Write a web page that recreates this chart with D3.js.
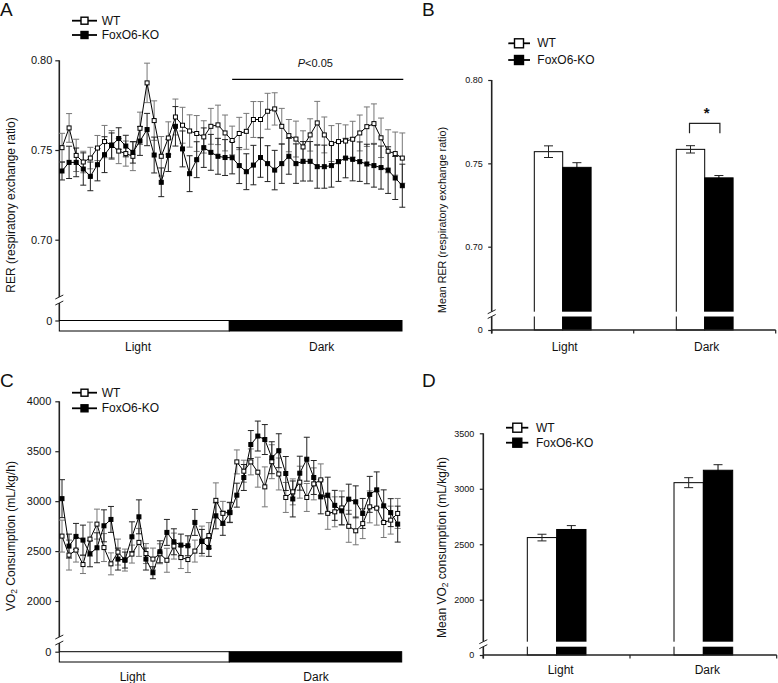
<!DOCTYPE html>
<html><head><meta charset="utf-8">
<script src="https://cdn.jsdelivr.net/npm/d3@7"></script>
<style>
body{margin:0;background:#fff}
svg{display:block}
text{font-family:"Liberation Sans",Arial,Helvetica,sans-serif;fill:#111}
</style></head>
<body><svg id="chart" width="778" height="683"></svg>
<script>
// ---------------- DATA ----------------
const timePoints = d3.range(49); // index of each measurement time point
const phases = ["Light", "Dark"];
const seriesNames = ["WT", "FoxO6-KO"];

// Panel A: RER time course
const rerWT = [0.7513,0.7623,0.7470,0.7433,0.7455,0.7511,0.7547,0.7528,0.7494,0.7480,0.7465,0.7621,0.7874,0.7664,0.7465,0.7567,0.7684,0.7638,0.7606,0.7592,0.7573,0.7632,0.7640,0.7595,0.7553,0.7592,0.7604,0.7670,0.7670,0.7716,0.7729,0.7632,0.7580,0.7561,0.7517,0.7584,0.7651,0.7584,0.7536,0.7547,0.7550,0.7560,0.7595,0.7630,0.7647,0.7568,0.7493,0.7480,0.7455];
const rerWTErr = [0.008,0.008,0.009,0.006,0.006,0.007,0.009,0.008,0.007,0.007,0.008,0.009,0.011,0.011,0.011,0.009,0.010,0.010,0.009,0.010,0.009,0.010,0.011,0.010,0.008,0.009,0.010,0.010,0.010,0.010,0.009,0.010,0.009,0.010,0.009,0.009,0.012,0.010,0.010,0.010,0.009,0.010,0.010,0.011,0.011,0.011,0.012,0.012,0.014];
const rerKO = [0.7383,0.7431,0.7431,0.7394,0.7353,0.7418,0.7474,0.7525,0.7564,0.7522,0.7487,0.7550,0.7614,0.7472,0.7320,0.7470,0.7632,0.7506,0.7368,0.7446,0.7513,0.7487,0.7465,0.7458,0.7457,0.7413,0.7379,0.7416,0.7458,0.7424,0.7388,0.7424,0.7465,0.7424,0.7437,0.7437,0.7407,0.7407,0.7413,0.7435,0.7455,0.7448,0.7435,0.7422,0.7413,0.7402,0.7388,0.7344,0.7301];
const rerKOErr = [0.005,0.009,0.008,0.009,0.008,0.009,0.010,0.007,0.006,0.006,0.006,0.008,0.009,0.010,0.008,0.009,0.011,0.010,0.010,0.010,0.011,0.010,0.010,0.010,0.009,0.010,0.010,0.011,0.011,0.010,0.011,0.011,0.010,0.011,0.011,0.011,0.012,0.012,0.012,0.011,0.011,0.012,0.011,0.011,0.012,0.012,0.013,0.012,0.012];
const rerTicks = [0.70, 0.75, 0.80];

// Panel B: mean RER
const rerMeanWT = [0.7570, 0.7584];
const rerMeanWTErr = [0.0035, 0.0022];
const rerMeanKO = [0.7476, 0.7413];
const rerMeanKOErr = [0.0028, 0.0014];

// Panel C: VO2 time course
const vo2WT = [2650,2460,2510,2365,2620,2770,2535,2372,2490,2410,2470,2587,2475,2420,2473,2408,2550,2435,2415,2500,2600,2655,3008,2878,2890,3393,3300,3393,3290,3143,3395,3272,3037,3093,3190,3037,3173,3213,2878,2893,2932,2748,2703,2775,2943,2930,2786,2810,2877];
const vo2WTErr = [160,150,120,90,170,150,140,110,130,110,90,140,100,110,100,120,130,110,130,110,150,130,175,120,100,120,110,130,150,200,170,160,150,130,160,140,160,160,160,150,170,160,140,150,160,170,150,140,150];
const vo2KO = [3025,2550,2647,2610,2473,2533,2753,2817,2420,2410,2643,2843,2420,2283,2493,2687,2593,2560,2553,2787,2597,2537,2853,2778,2885,3060,3237,3567,3652,3617,3435,3505,3277,3022,3280,3420,3237,3043,3060,2958,2903,3020,2993,2877,3068,3113,2953,2885,2770];
const vo2KOErr = [190,120,130,150,130,150,160,130,110,80,150,170,110,60,110,130,130,110,100,130,120,90,130,120,100,120,130,140,150,150,160,170,170,180,170,220,170,170,180,150,140,150,160,150,180,180,160,140,180];
const vo2Ticks = [2000, 2500, 3000, 3500, 4000];

// Panel D: mean VO2
const vo2MeanWT = [2560, 3055];
const vo2MeanWTErr = [30, 45];
const vo2MeanKO = [2633, 3167];
const vo2MeanKOErr = [35, 50];
const vo2MeanTicks = [2000, 2500, 3000, 3500];

// ---------------- DRAWING ----------------
const svg = d3.select("#chart");
const FONT = '"Liberation Sans",Arial,Helvetica,sans-serif';

function panelLetter(x, y, t) {
  svg.append("text").attr("x", x).attr("y", y).attr("font-size", 19).text(t);
}

function brokenYAxis(o) {
  const g = svg.append("g");
  const ax = g.append("g").attr("transform", `translate(${o.x},0)`)
    .call(d3.axisLeft(o.scale).tickValues(o.ticks).tickFormat(o.fmt).tickSize(o.tick).tickPadding(o.pad))
    .call(a => a.select(".domain").remove());
  const zeroScale = d3.scaleLinear().domain([0, 1]).range([o.zeroY, o.zeroY - 10]);
  const az = g.append("g").attr("transform", `translate(${o.x},0)`)
    .call(d3.axisLeft(zeroScale).tickValues([0]).tickFormat(d3.format("d")).tickSize(o.tick).tickPadding(o.pad))
    .call(a => a.select(".domain").remove());
  [ax, az].forEach(a => {
    a.selectAll("line").attr("stroke", "#222").attr("stroke-width", 1.2);
    a.selectAll("text").attr("font-size", o.fs).attr("fill", "#222").attr("font-family", FONT);
  });
  const top = o.scale(o.ticks[o.ticks.length - 1]);
  g.append("line").attr("x1", o.x).attr("x2", o.x).attr("y1", top).attr("y2", o.brk1)
    .attr("stroke", "#222").attr("stroke-width", 1.6);
  g.append("line").attr("x1", o.x).attr("x2", o.x).attr("y1", o.brk2).attr("y2", o.zeroY + (o.extend || 0))
    .attr("stroke", "#222").attr("stroke-width", 1.6);
  [o.brk1, o.brk2].forEach(yy => {
    g.append("line").attr("x1", o.x - 4).attr("x2", o.x + 4).attr("y1", yy + 2).attr("y2", yy - 2)
      .attr("stroke", "#222").attr("stroke-width", 1);
  });
}

function yLabel(x, y, parts, fs) {
  const t = svg.append("text").attr("transform", `translate(${x},${y}) rotate(-90)`)
    .attr("text-anchor", "middle").attr("dominant-baseline", "central").attr("font-size", fs);
  parts.forEach(p => {
    const ts = t.append("tspan").text(p.t);
    if (p.sub) ts.attr("font-size", fs * 0.7).attr("dy", 3);
    if (p.after) ts.attr("dy", -3);
  });
}

function legend(o) {
  seriesNames.forEach((name, i) => {
    const y = o.ys[i];
    svg.append("line").attr("x1", o.x1).attr("x2", o.x2).attr("y1", y).attr("y2", y)
      .attr("stroke", "#000").attr("stroke-width", 1.8);
    svg.append("rect").attr("x", o.cx - o.s / 2).attr("y", y - o.s / 2).attr("width", o.s).attr("height", o.s)
      .attr("fill", i === 0 ? "#fff" : "#000").attr("stroke", "#000").attr("stroke-width", 1.4);
    svg.append("text").attr("x", o.tx).attr("y", y).attr("dominant-baseline", "central")
      .attr("font-size", 12).text(name);
  });
}

function timeSeries(o) {
  const g = svg.append("g");
  const sets = [
    { v: o.wt, e: o.wtErr, fill: "#fff", ec: "#777" },
    { v: o.ko, e: o.koErr, fill: "#000", ec: "#222" }
  ];
  sets.forEach(s => {
    const d = timePoints.map(i => ({ i, v: s.v[i], e: s.e[i] }));
    const eg = g.append("g").attr("stroke", s.ec).attr("stroke-width", 1);
    eg.append("g").selectAll("line").data(d).join("line")
      .attr("x1", d => o.x(d.i)).attr("x2", d => o.x(d.i))
      .attr("y1", d => o.y(d.v - d.e)).attr("y2", d => o.y(d.v + d.e));
    eg.append("g").selectAll("line").data(d).join("line")
      .attr("x1", d => o.x(d.i) - 3).attr("x2", d => o.x(d.i) + 3)
      .attr("y1", d => o.y(d.v + d.e)).attr("y2", d => o.y(d.v + d.e));
    eg.append("g").selectAll("line").data(d).join("line")
      .attr("x1", d => o.x(d.i) - 3).attr("x2", d => o.x(d.i) + 3)
      .attr("y1", d => o.y(d.v - d.e)).attr("y2", d => o.y(d.v - d.e));
  });
  const line = d3.line().x((d, i) => o.x(i)).y(d => o.y(d));
  sets.forEach(s => {
    g.append("path").datum(s.v).attr("d", line).attr("fill", "none").attr("stroke", "#000").attr("stroke-width", 1);
  });
  sets.forEach(s => {
    g.append("g").selectAll("rect").data(s.v).join("rect")
      .attr("x", (d, i) => o.x(i) - 2).attr("y", d => o.y(d) - 2)
      .attr("width", 4).attr("height", 4)
      .attr("fill", s.fill).attr("stroke", "#000").attr("stroke-width", 1);
  });
}

function phaseBar(o) {
  const xp = d3.scaleOrdinal().domain(phases).range([[o.x0, o.xs], [o.xs, o.x1]]);
  svg.append("g").selectAll("rect").data(phases).join("rect")
    .attr("x", d => xp(d)[0]).attr("width", d => xp(d)[1] - xp(d)[0])
    .attr("y", o.y).attr("height", o.h)
    .attr("fill", (d, i) => i === 0 ? "#fff" : "#000").attr("stroke", "#000").attr("stroke-width", 1);
  svg.append("g").selectAll("text").data(phases).join("text")
    .attr("x", (d, i) => o.lx[i]).attr("y", o.ly).attr("text-anchor", "middle")
    .attr("dominant-baseline", "central").attr("font-size", 12).text(d => d);
}

function barPanel(o) {
  const xb = d3.scaleBand().domain(phases).range([o.xl, o.xr]);
  const w = xb.bandwidth() * 0.2;
  const data = [];
  phases.forEach((p, i) => {
    data.push({ p, k: 0, v: o.wt[i], e: o.wtErr[i] });
    data.push({ p, k: 1, v: o.ko[i], e: o.koErr[i] });
  });
  const bx = d => xb(d.p) + xb.bandwidth() / 2 + (d.k === 0 ? -w : 0);
  const g = svg.append("g");
  g.selectAll("rect.bar").data(data).join("rect").attr("class", "bar")
    .attr("x", bx).attr("width", w).attr("y", d => o.y(d.v)).attr("height", d => o.zeroY - o.y(d.v))
    .attr("fill", d => d.k === 0 ? "#fff" : "#000").attr("stroke", "#000").attr("stroke-width", 1);
  // break gap
  g.selectAll("rect.gap").data(phases).join("rect").attr("class", "gap")
    .attr("x", p => xb(p) + xb.bandwidth() / 2 - w - 1.5).attr("width", 2 * w + 3)
    .attr("y", o.brk1).attr("height", o.brk2 - o.brk1).attr("fill", "#fff");
  // error bars
  const eg = g.append("g").attr("stroke", "#222").attr("stroke-width", 1);
  const cx = d => bx(d) + w / 2;
  eg.append("g").selectAll("line").data(data).join("line")
    .attr("x1", cx).attr("x2", cx).attr("y1", d => o.y(d.v - d.e)).attr("y2", d => o.y(d.v + d.e))
    .attr("stroke", d => d.k === 0 ? "#222" : "#000");
  eg.append("g").selectAll("line").data(data).join("line")
    .attr("x1", d => cx(d) - 4.5).attr("x2", d => cx(d) + 4.5)
    .attr("y1", d => o.y(d.v + d.e)).attr("y2", d => o.y(d.v + d.e));
  eg.append("g").selectAll("line").data(data).join("line")
    .attr("x1", d => cx(d) - 4.5).attr("x2", d => cx(d) + 4.5)
    .attr("y1", d => o.y(d.v - d.e)).attr("y2", d => o.y(d.v - d.e))
    .attr("stroke", d => d.k === 0 ? "#222" : "#000");
  // x axis
  const xa = svg.append("g").attr("transform", `translate(0,${o.zeroY})`);
  xa.append("line").attr("x1", o.xl).attr("x2", o.xr).attr("stroke", "#222").attr("stroke-width", 1.4);
  xa.selectAll("line.t").data([o.xl, xb("Dark"), o.xr]).join("line").attr("class", "t")
    .attr("x1", d => d).attr("x2", d => d).attr("y1", 0).attr("y2", 3.5).attr("stroke", "#222").attr("stroke-width", 1.2);
  svg.append("g").selectAll("text").data(phases).join("text")
    .attr("x", p => xb(p) + xb.bandwidth() / 2 + o.lxOff).attr("y", o.ly)
    .attr("text-anchor", "middle").attr("dominant-baseline", "central").attr("font-size", 12).text(p => p);
  return { xb, w };
}

// ===== Panel A =====
panelLetter(0, 16, "A");
const xA = d3.scaleLinear().domain([0, 48]).range([62, 402.3]);
const yA = d3.scaleLinear().domain([0.70, 0.80]).range([239.7, 60.3]);
brokenYAxis({ x: 59.3, scale: yA, ticks: rerTicks, fmt: d3.format(".2f"), tick: 4, pad: 3, fs: 11,
  brk1: 297, brk2: 303, zeroY: 320.5 });
yLabel(10.5, 205, [{ t: "RER (respiratory exchange ratio)" }], 12);
legend({ x1: 72, x2: 97, cx: 84.5, s: 7, tx: 101.7, ys: [20.7, 35] });
timeSeries({ x: xA, y: yA, wt: rerWT, wtErr: rerWTErr, ko: rerKO, koErr: rerKOErr });
phaseBar({ x0: 59.3, xs: 229.3, x1: 402, y: 320.5, h: 10.5, lx: [138, 321.7], ly: 347.3 });
// significance line
svg.append("line").attr("x1", xA(24)).attr("x2", xA(48) + 1).attr("y1", 79.3).attr("y2", 79.3)
  .attr("stroke", "#000").attr("stroke-width", 1.2);
const pt = svg.append("text").attr("x", 315.3).attr("y", 67).attr("text-anchor", "middle").attr("font-size", 11);
pt.append("tspan").attr("font-style", "italic").text("P");
pt.append("tspan").text("<0.05");

// ===== Panel B =====
panelLetter(422, 16, "B");
const yB = d3.scaleLinear().domain([0.70, 0.80]).range([246.7, 80]);
brokenYAxis({ x: 491.7, scale: yB, ticks: rerTicks, fmt: d3.format(".2f"), tick: 3.5, pad: 5.5, fs: 9,
  brk1: 311.7, brk2: 316.5, zeroY: 330, extend: 3.5 });
yLabel(441.7, 220, [{ t: "Mean RER (respiratory exchange ratio)" }], 10.7);
legend({ x1: 508.3, x2: 530, cx: 519, s: 9, tx: 537.3, ys: [43.3, 60] });
const bB = barPanel({ xl: 491.7, xr: 775.7, y: yB, zeroY: 330, brk1: 311.7, brk2: 316.5,
  wt: rerMeanWT, wtErr: rerMeanWTErr, ko: rerMeanKO, koErr: rerMeanKOErr, ly: 347.3, lxOff: 2 });
// significance bracket (Dark)
{
  const c = bB.xb("Dark") + bB.xb.bandwidth() / 2;
  const x1 = c - bB.w / 2 - 1, x2 = c + bB.w / 2 + 1;
  svg.append("path").attr("d", `M${x1},133.3V123.3H${x2}V133.3`).attr("fill", "none")
    .attr("stroke", "#222").attr("stroke-width", 1.2);
  svg.append("text").attr("x", c + 2).attr("y", 118).attr("text-anchor", "middle")
    .attr("font-size", 15).attr("font-weight", "bold").text("*");
}

// ===== Panel C =====
panelLetter(0, 387, "C");
const xC = d3.scaleLinear().domain([0, 48]).range([62, 397.7]);
const yC = d3.scaleLinear().domain([2000, 4000]).range([601, 401.3]);
brokenYAxis({ x: 59.3, scale: yC, ticks: vo2Ticks, fmt: d3.format("d"), tick: 4, pad: 4, fs: 11,
  brk1: 637, brk2: 643, zeroY: 651.7 });
yLabel(10.5, 536, [{ t: "VO" }, { t: "2", sub: true }, { t: " Consumption (mL/kg/h)", after: true }], 12);
legend({ x1: 72, x2: 97, cx: 84.5, s: 7, tx: 101.7, ys: [392.7, 408.3] });
timeSeries({ x: xC, y: yC, wt: vo2WT, wtErr: vo2WTErr, ko: vo2KO, koErr: vo2KOErr });
phaseBar({ x0: 59.3, xs: 229.3, x1: 401.7, y: 651.7, h: 10.3, lx: [132.7, 316], ly: 676.7 });

// ===== Panel D =====
panelLetter(422, 387, "D");
const yD = d3.scaleLinear().domain([2000, 3500]).range([599.7, 433.3]);
brokenYAxis({ x: 483.3, scale: yD, ticks: vo2MeanTicks, fmt: d3.format("d"), tick: 3.5, pad: 5.5, fs: 9,
  brk1: 641.7, brk2: 646.7, zeroY: 655, extend: 3.5 });
yLabel(441.7, 547.5, [{ t: "Mean VO" }, { t: "2", sub: true }, { t: " consumption (mL/kg/h)", after: true }], 12);
legend({ x1: 506, x2: 528.3, cx: 517.3, s: 9, tx: 536, ys: [427.7, 442.7] });
barPanel({ xl: 483.3, xr: 776.7, y: yD, zeroY: 655, brk1: 641.7, brk2: 646.7,
  wt: vo2MeanWT, wtErr: vo2MeanWTErr, ko: vo2MeanKO, koErr: vo2MeanKOErr, ly: 670, lxOff: 4 });
</script>
</body></html>
